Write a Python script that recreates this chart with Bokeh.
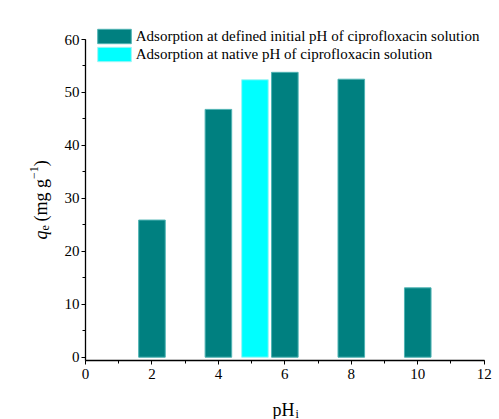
import math
from bokeh.plotting import figure
from bokeh.models import Range1d, SingleIntervalTicker, Label
from bokeh.embed import file_html
from bokeh.resources import INLINE

# ---- data ----
ph_defined = [2, 4, 6, 8, 10]
qe_defined = [25.9, 46.8, 53.8, 52.5, 13.1]
ph_native = [5.1]
qe_native = [52.4]
x_ticks_interval = 2
y_ticks_interval = 10
x_bounds = (0, 12)
y_bounds = (-0.62, 60)
label_defined = "Adsorption at defined initial pH of ciprofloxacin solution"
label_native = "Adsorption at native pH of ciprofloxacin solution"

FONT = "Liberation Serif"
TEAL = "#008080"
CYAN = "#00FFFF"

# frame covers the whole canvas; axes are pinned inside it
PX_X = 398.7 / 12.0
PX_Y = 317.7 / 60.0
x_start = -85 / PX_X
x_end = 12 + (499 - 483.7) / PX_X
y_end = 60 + 39 / PX_Y
y_start = -(419 - 356.7) / PX_Y

p = figure(width=499, height=419, output_backend="svg", toolbar_location=None,
           x_range=Range1d(x_start, x_end), y_range=Range1d(y_start, y_end),
           min_border=0, min_border_left=0, min_border_right=0,
           min_border_top=0, min_border_bottom=0)
p.background_fill_color = "white"
p.border_fill_color = "white"
p.outline_line_color = None
p.grid.visible = False

p.vbar(x=ph_defined, top=qe_defined, bottom=0, width=0.8, fill_color=TEAL,
       line_color="#4fb3b3", line_width=1, legend_label=label_defined)
p.vbar(x=ph_native, top=qe_native, bottom=0, width=0.8, fill_color=CYAN,
       line_color="#9ff5f5", line_width=1, legend_label=label_native)

xa, ya = p.xaxis[0], p.yaxis[0]
for ax in (xa, ya):
    ax.axis_line_color = "black"
    ax.axis_line_width = 1.3
    ax.major_tick_line_color = "black"
    ax.minor_tick_line_color = "black"
    ax.major_tick_in = 0
    ax.major_tick_out = 4
    ax.minor_tick_in = 0
    ax.minor_tick_out = 3
    ax.major_label_text_font = FONT
    ax.major_label_text_font_size = "15px"
    ax.major_label_text_color = "black"

xa.ticker = SingleIntervalTicker(interval=x_ticks_interval, num_minor_ticks=2)
ya.ticker = SingleIntervalTicker(interval=y_ticks_interval, num_minor_ticks=2)
xa.bounds = x_bounds
ya.bounds = y_bounds
xa.fixed_location = y_bounds[0]
ya.fixed_location = x_bounds[0]
xa.major_label_standoff = 5
ya.major_label_standoff = 2

# legend
lg = p.legend[0]
lg.location = (92.75, 356)
lg.padding = 0
lg.margin = 0
lg.spacing = 0
lg.glyph_width = 42
lg.glyph_height = 18
lg.label_height = 18
lg.label_standoff = 1
lg.label_text_font = FONT
lg.label_text_font_size = "15px"
lg.label_text_color = "black"
lg.background_fill_alpha = 0
lg.border_line_color = None

# x axis label: pH_i
xl_x, xl_y = (294 - 85) / PX_X, (356.7 - 409) / PX_Y
p.add_layout(Label(x=xl_x, y=xl_y, text="pH", text_font=FONT, text_font_size="18px",
                   text_align="right", text_baseline="alphabetic", text_color="black"))
p.add_layout(Label(x=xl_x, y=xl_y, x_offset=1, y_offset=-4, text="i", text_font=FONT,
                   text_font_size="12px", text_align="left", text_baseline="alphabetic",
                   text_color="black"))

# y axis label: q_e (mg g^-1)
ax0, ay0 = (40 - 85) / PX_X, (356.7 - 239) / PX_Y
pieces = [
    ("q", 0, 0, "18px", "italic"),
    ("e", 4, 9, "12px", "normal"),
    ("(mg g", 0, 18, "18px", "normal"),
    ("\u22121", -7, 60.5, "12px", "normal"),
    (")", 0, 73.3, "18px", "normal"),
]
for txt, xo, yo, fs, st in pieces:
    p.add_layout(Label(x=ax0, y=ay0, x_offset=xo, y_offset=yo, text=txt, angle=math.pi / 2,
                       text_font=FONT, text_font_size=fs, text_font_style=st,
                       text_align="left", text_baseline="alphabetic", text_color="black"))

open("out.html", "w").write(file_html(p, INLINE))
